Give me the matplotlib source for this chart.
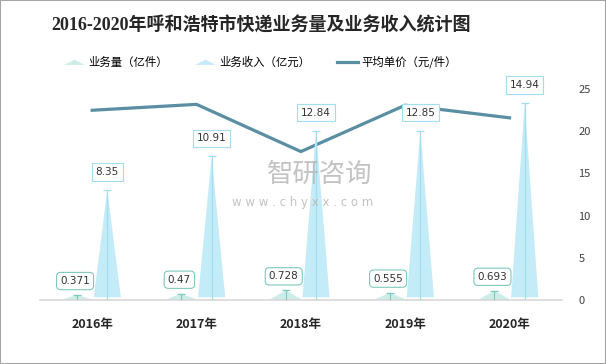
import matplotlib
matplotlib.use("Agg")
import matplotlib.pyplot as plt
from matplotlib.patches import Polygon, Rectangle
from matplotlib.lines import Line2D
from matplotlib.legend_handler import HandlerPatch

plt.rcParams['font.family'] = ['Noto Sans CJK SC', 'DejaVu Sans']

# 数据
years = ['2016年', '2017年', '2018年', '2019年', '2020年']
volume = [0.371, 0.47, 0.728, 0.555, 0.693]       # 业务量（亿件）
revenue = [8.35, 10.91, 12.84, 12.85, 14.94]      # 业务收入（亿元）
price = [22.5, 23.2, 17.6, 23.1, 21.6]            # 平均单价（元/件）

c_vol = '#cdeee8'
c_vol_edge = '#7ccabd'
c_rev = '#c4ebf8'
c_rev_edge = '#a3ddf0'
c_line = '#5a8ea3'

fig = plt.figure(figsize=(6.06, 3.64), dpi=100)
ax = fig.add_axes([0.066, 0.176, 0.861, 0.579])
ax2 = ax.twinx()

off = 0.145
hw = 0.13
for i in range(len(years)):
    # 业务量 triangle
    xv = i - off
    ax.add_patch(Polygon([[xv - 0.16, 0], [xv, volume[i]], [xv + 0.16, 0]],
                         closed=True, facecolor=c_vol, edgecolor='none', zorder=2))
    ax.plot([xv, xv], [0, volume[i]], color=c_vol_edge, lw=0.9, zorder=3)
    ax.plot([xv], [volume[i]], marker='_', ms=6, mew=0.9, color=c_vol_edge, zorder=3)
    ax.annotate(f'{volume[i]:g}', (xv, volume[i]), xytext=(-2, 14),
                textcoords='offset pixels', ha='center', va='center',
                fontsize=7.5, color='#333333', family=['DejaVu Sans'],
                bbox=dict(boxstyle='round,pad=0.35,rounding_size=0.4',
                          fc='white', ec=c_vol_edge, lw=0.8), zorder=5)
    # 业务收入 triangle
    xr = i + off
    ax.add_patch(Polygon([[xr - hw, 0.2], [xr, revenue[i]], [xr + hw, 0.2]],
                         closed=True, facecolor=c_rev, edgecolor='none', zorder=2))
    ax.plot([xr, xr], [0, revenue[i]], color=c_rev_edge, lw=0.9, zorder=3)
    ax.plot([xr], [revenue[i]], marker='_', ms=6, mew=0.9, color=c_rev_edge, zorder=3)
    ax.annotate(f'{revenue[i]:.2f}', (xr, revenue[i]), xytext=(0, 13),
                textcoords='offset pixels', ha='center', va='bottom',
                fontsize=7.5, color='#333333', family=['DejaVu Sans'],
                bbox=dict(boxstyle='square,pad=0.35', fc='white',
                          ec=c_rev_edge, lw=0.8), zorder=5)

ax.set_xlim(-0.5, len(years) - 0.5)
ax.set_ylim(0, 16)
ax.set_xticks(range(len(years)))
ax.set_xticklabels(years, fontsize=9, fontweight='bold', color='#262626')
ax.tick_params(axis='x', length=0, pad=13)
ax.set_yticks([])
for s in ['left', 'right', 'top']:
    ax.spines[s].set_visible(False)
    ax2.spines[s].set_visible(False)
ax.spines['bottom'].set_color('#d9d9d9')
ax.spines['bottom'].set_linewidth(1.2)
ax2.spines['bottom'].set_visible(False)

ax2.plot(range(len(years)), price, color=c_line, lw=2.3, zorder=4)
ax2.set_ylim(0, 25)
ax2.set_yticks([0, 5, 10, 15, 20, 25])
ax2.tick_params(axis='y', length=0, pad=12, labelsize=8, labelcolor='#404040')
ax2.set_zorder(ax.get_zorder() - 1)
ax.patch.set_visible(False)

# watermark
fig.text(0.528, 0.52, '智研咨询', fontsize=19, color='#b4b4b4', ha='center', va='center', alpha=0.8)
fig.text(0.50, 0.445, 'w w w . c h y x x . c o m', fontsize=8.5, color='#b4b4b4',
         ha='center', va='center', family=['DejaVu Sans'], alpha=0.8)

# legend
def tri_patch(legend, orig_handle, xdescent, ydescent, width, height, fontsize):
    return Polygon([[-xdescent, -ydescent + height * 0.1],
                    [-xdescent + width / 2, -ydescent + height * 0.75],
                    [-xdescent + width, -ydescent + height * 0.1]], closed=True)

h1 = Polygon([[0, 0], [1, 1], [2, 0]], facecolor=c_vol, edgecolor='none')
h2 = Polygon([[0, 0], [1, 1], [2, 0]], facecolor=c_rev, edgecolor='none')
h3 = Line2D([], [], color=c_line, lw=2.3)
fig.legend([h1, h2, h3], ['业务量（亿件）', '业务收入（亿元）', '平均单价（元/件）'],
           loc='center', bbox_to_anchor=(0.43, 0.83), ncol=3, frameon=False,
           fontsize=8.2, handlelength=1.8, columnspacing=2.4, handletextpad=0.3,
           handler_map={Polygon: HandlerPatch(patch_func=tri_patch)})

fig.text(0.43, 0.93, '2016-2020年呼和浩特市快递业务量及业务收入统计图',
         fontsize=13, fontweight='bold', color='#262626', ha='center', va='center',
         family=['Liberation Serif', 'Noto Sans CJK SC'])

fig.patches.append(Rectangle((0, 0), 1, 1, transform=fig.transFigure, fill=False,
                             edgecolor='#a6a6a6', lw=1.5))

fig.savefig('out.png', dpi=100)
